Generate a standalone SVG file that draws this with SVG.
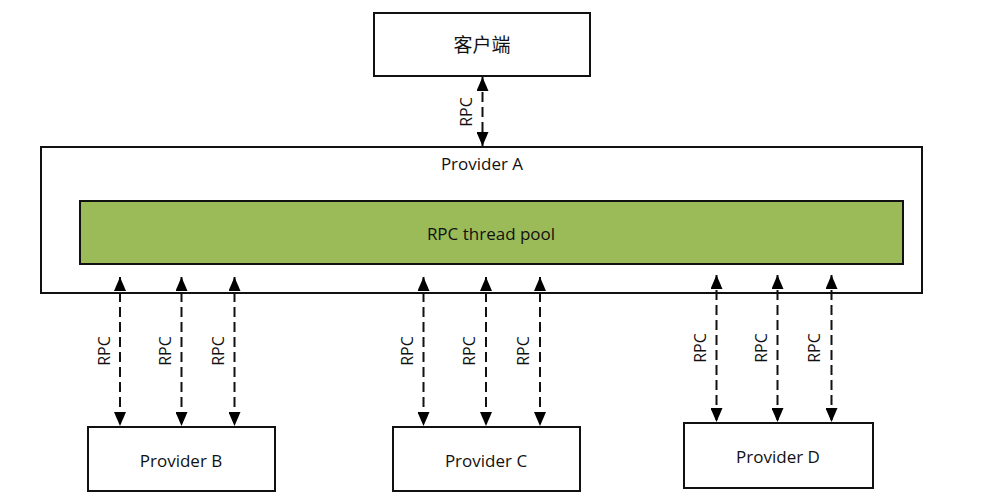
<svg xmlns="http://www.w3.org/2000/svg" width="984" height="504" viewBox="0 0 984 504">
<style>
.box{fill:#fff;stroke:#111;stroke-width:2}
.pool{fill:#9BBB59;stroke:#111;stroke-width:2}
.t{font-family:"Open Sans","Noto Sans CJK SC",sans-serif;font-size:16px;fill:#111;text-anchor:middle;dominant-baseline:central}
.n{font-size:17px}
.c{fill:none;stroke:#111;stroke-width:2;stroke-dasharray:10 5;marker-start:url(#a);marker-end:url(#a)}
</style>
<defs>
<marker id="a" viewBox="0 0 14 12" refX="14" refY="6" markerWidth="14" markerHeight="12" markerUnits="userSpaceOnUse" orient="auto-start-reverse">
<path d="M0,0 L14,6 L0,12 z" fill="#000"/>
</marker>
</defs>
<rect width="984" height="504" fill="#fff"/>
<g id="client">
<rect class="box" x="374" y="13" width="216" height="63"/>
<text class="t" x="482" y="45" style="font-size:19px">客户端</text>
</g>
<g id="providerA">
<rect class="box" x="41" y="147" width="881" height="146"/>
<text class="t n" x="482" y="163">Provider A</text>
<g id="pool">
<rect class="pool" x="80" y="201" width="823" height="63"/>
<text class="t n" x="491" y="233">RPC thread pool</text>
</g>
</g>
<g id="providerB">
<rect class="box" x="88" y="427" width="187" height="64"/>
<text class="t n" x="181" y="460">Provider B</text>
</g>
<g id="providerC">
<rect class="box" x="393" y="427" width="187" height="64"/>
<text class="t n" x="486" y="460">Provider C</text>
</g>
<g id="providerD">
<rect class="box" x="684" y="423" width="189" height="65"/>
<text class="t n" x="778" y="456">Provider D</text>
</g>
<g id="connectors">
<path class="c" d="M482.5,77 V146"/>
<path class="c" d="M120,277 V426"/>
<path class="c" d="M181.5,277 V426"/>
<path class="c" d="M234.5,277 V426"/>
<path class="c" d="M423.5,277 V426"/>
<path class="c" d="M486,277 V426"/>
<path class="c" d="M540,277 V426"/>
<path class="c" d="M716.5,275 V422"/>
<path class="c" d="M777.5,275 V422"/>
<path class="c" d="M831.5,275 V422"/>
<text class="t" transform="translate(466,112) rotate(-90)">RPC</text>
<text class="t" transform="translate(104,351) rotate(-90)">RPC</text>
<text class="t" transform="translate(165,351) rotate(-90)">RPC</text>
<text class="t" transform="translate(218,351) rotate(-90)">RPC</text>
<text class="t" transform="translate(407,351) rotate(-90)">RPC</text>
<text class="t" transform="translate(469,351) rotate(-90)">RPC</text>
<text class="t" transform="translate(523,351) rotate(-90)">RPC</text>
<text class="t" transform="translate(700,348) rotate(-90)">RPC</text>
<text class="t" transform="translate(761,348) rotate(-90)">RPC</text>
<text class="t" transform="translate(814,348) rotate(-90)">RPC</text>
</g>
</svg>
